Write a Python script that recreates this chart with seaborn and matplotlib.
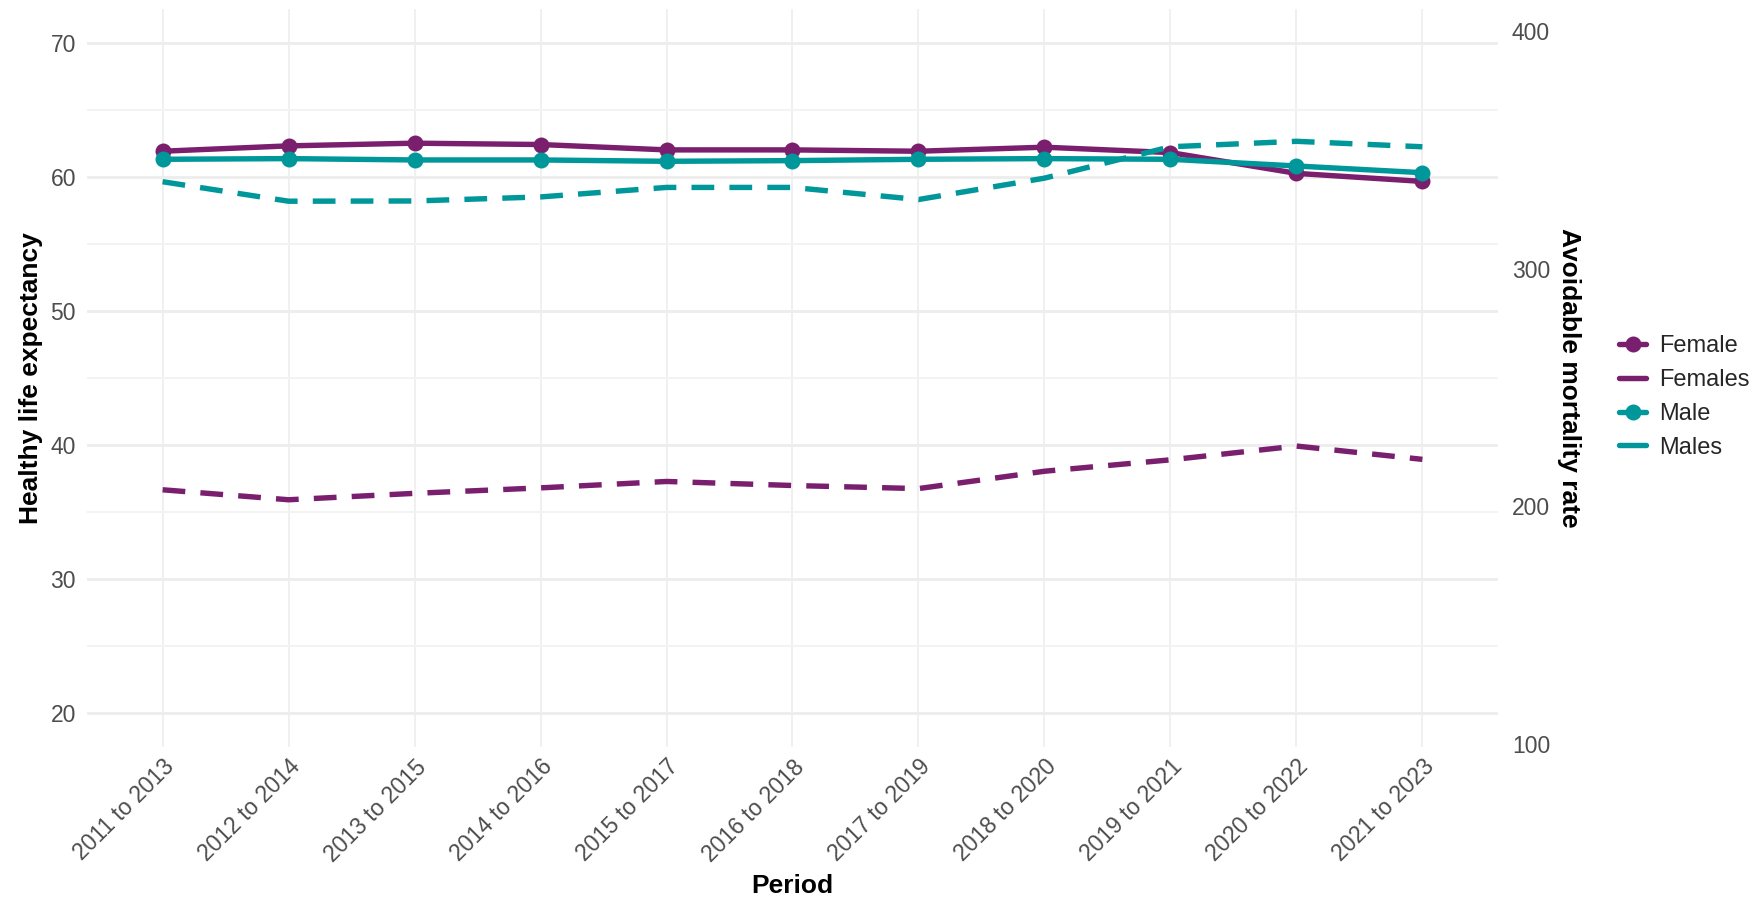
import matplotlib
matplotlib.use("Agg")
import matplotlib.pyplot as plt
from matplotlib.lines import Line2D
from matplotlib.ticker import MultipleLocator
import seaborn as sns

# ---------------------------------------------------------
# Dados
# ---------------------------------------------------------
periods = ["2011 to 2013", "2012 to 2014", "2013 to 2015", "2014 to 2016",
           "2015 to 2017", "2016 to 2018", "2017 to 2019", "2018 to 2020",
           "2019 to 2021", "2020 to 2022", "2021 to 2023"]

# healthy life expectancy (eixo esquerdo)
hle_female = [61.9, 62.3, 62.5, 62.4, 62.0, 62.0, 61.9, 62.2, 61.8, 60.25, 59.65]
hle_male = [61.3, 61.35, 61.25, 61.25, 61.15, 61.2, 61.3, 61.35, 61.3, 60.8, 60.3]

# avoidable mortality rate (eixo direito)
amr_females = [207.0, 202.8, 205.5, 207.8, 210.5, 208.8, 207.5, 214.8, 219.6, 225.4, 219.8]
amr_males = [336.6, 328.4, 328.5, 330.2, 334.2, 334.2, 329.1, 338.1, 351.3, 353.6, 351.3]

legend_labels = ["Female", "Females", "Male", "Males"]

# ---------------------------------------------------------
# Estilo
# ---------------------------------------------------------
sns.set_theme(style="white")
plt.rcParams["font.family"] = ["Liberation Sans", "DejaVu Sans"]

purple = "#7A1F6E"
teal = "#00979A"
grid_col = "#EDEDED"
k = 5.645  # fator do eixo secundario

fig, ax = plt.subplots(figsize=(17.56, 9.0), dpi=100)
fig.subplots_adjust(left=87 / 1756, right=1498 / 1756, top=1 - 9 / 900, bottom=1 - 747 / 900)

lw = 3.9
ms = 11.5
dash = (0, (4.2, 2.8))

# --- linhas de HLE (solidas, com pontos) ---
sns.lineplot(x=periods, y=hle_female, ax=ax, color=purple, linewidth=lw,
             marker="o", markersize=ms, markeredgewidth=0, sort=False, legend=False)
sns.lineplot(x=periods, y=hle_male, ax=ax, color=teal, linewidth=lw,
             marker="o", markersize=ms, markeredgewidth=0, sort=False, legend=False)

ax.set_ylim(17.5, 72.5)
ax.set_xlim(-0.6, len(periods) - 0.4)
ax.yaxis.set_major_locator(MultipleLocator(10))
ax.yaxis.set_minor_locator(MultipleLocator(5))
ax.grid(False)
ax.yaxis.grid(True, which="major", color=grid_col, linewidth=2.0)
ax.yaxis.grid(True, which="minor", color="#F3F3F3", linewidth=1.4)
ax.xaxis.grid(True, which="major", color="#ECECEC", linewidth=1.1)
ax.set_axisbelow(True)

# --- eixo secundario: mortalidade (tracejado) ---
ax2 = ax.twinx()
sns.lineplot(x=periods, y=amr_females, ax=ax2, color=purple, linewidth=lw,
             linestyle=dash, sort=False, legend=False)
sns.lineplot(x=periods, y=amr_males, ax=ax2, color=teal, linewidth=lw,
             linestyle=dash, sort=False, legend=False)
ax2.set_ylim(17.5 * k, 72.5 * k)
ax2.set_yticks([100, 200, 300, 400])
ax2.grid(False)

for a in (ax, ax2):
    for s in a.spines.values():
        s.set_visible(False)
    a.tick_params(axis="both", which="both", length=0, labelsize=16.5, labelcolor="#4D4D4D")
ax.tick_params(axis="y", pad=8)
ax2.tick_params(axis="y", pad=10)
ax.tick_params(axis="x", pad=6)

plt.setp(ax.get_xticklabels(), rotation=45, ha="right", rotation_mode="anchor")

ax.set_xlabel("Period", fontsize=19, fontweight="bold", color="black", labelpad=6)
ax.set_ylabel("Healthy life expectancy", fontsize=19, fontweight="bold", color="black", labelpad=5)
ax2.set_ylabel("Avoidable mortality rate", fontsize=19, fontweight="bold", color="black",
               rotation=-90, labelpad=22)

# --- legenda ---
handles = [
    Line2D([], [], color=purple, linewidth=lw, marker="o", markersize=ms, markeredgewidth=0),
    Line2D([], [], color=purple, linewidth=lw),
    Line2D([], [], color=teal, linewidth=lw, marker="o", markersize=ms, markeredgewidth=0),
    Line2D([], [], color=teal, linewidth=lw),
]
fig.legend(handles, legend_labels, loc="center left", bbox_to_anchor=(1598 / 1756, 1 - 397 / 900),
           frameon=False, fontsize=17, handlelength=1.15, handletextpad=0.55, labelspacing=0.5)

plt.savefig("out.png", dpi=100)
